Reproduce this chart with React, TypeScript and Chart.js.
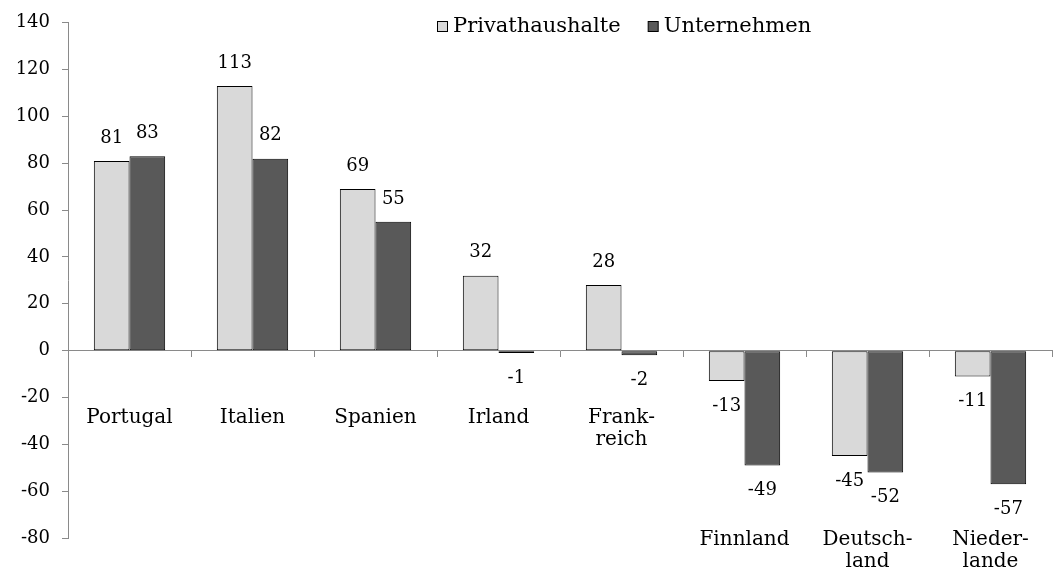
import React, { useEffect, useRef } from 'react';
import { Chart, registerables } from 'chart.js';

Chart.register(...registerables);

// ---- data ----
const categories: string[][] = [
  ['Portugal'],
  ['Italien'],
  ['Spanien'],
  ['Irland'],
  ['Frank-', 'reich'],
  ['Finnland'],
  ['Deutsch-', 'land'],
  ['Nieder-', 'lande'],
];
const seriesNames = ['Privathaushalte', 'Unternehmen'];
const privathaushalte = [81, 113, 69, 32, 28, -13, -45, -11];
const unternehmen = [83, 82, 55, -1, -2, -49, -52, -57];
const yMin = -80;
const yMax = 140;
const yStep = 20;

const FONT_FAMILY = '"DejaVu Serif", serif';
const NUM_SIZE = 18;
const TEXT_SIZE = 20;
const LEGEND_SIZE = 21;
const NUM_FONT = `${NUM_SIZE}px ${FONT_FAMILY}`;
const TEXT_FONT = `${TEXT_SIZE}px ${FONT_FAMILY}`;
const LEGEND_FONT = `${LEGEND_SIZE}px ${FONT_FAMILY}`;
const AXIS_COLOR = '#8a8a8a';
const LIGHT = '#d9d9d9';
const DARK = '#595959';

const overlayPlugin = {
  id: 'overlay',
  afterDatasetsDraw(chart: any) {
    const ctx: CanvasRenderingContext2D = chart.ctx;
    ctx.save();
    ctx.font = NUM_FONT;
    ctx.fillStyle = '#000';
    ctx.textAlign = 'center';
    ctx.textBaseline = 'middle';

    // value labels
    chart.data.datasets.forEach((ds: any, i: number) => {
      const meta = chart.getDatasetMeta(i);
      meta.data.forEach((bar: any, j: number) => {
        const v = ds.data[j];
        const y = v >= 0 ? bar.y - 23 : bar.y + 25;
        ctx.fillText(String(v), bar.x, y);
      });
    });

    // category labels
    ctx.font = TEXT_FONT;
    const xs = chart.scales.x;
    const ys = chart.scales.y;
    const zero = ys.getPixelForValue(0);
    categories.forEach((lines, j) => {
      const min = Math.min(privathaushalte[j], unternehmen[j]);
      const top = min < -10 ? ys.bottom + 2 : zero + 67;
      lines.forEach((l, k) => ctx.fillText(l, xs.getPixelForValue(j), top + k * 22));
    });

    // legend
    ctx.font = LEGEND_FONT;
    ctx.textAlign = 'left';
    let x = 437;
    const ly = 27;
    chart.data.datasets.forEach((ds: any) => {
      ctx.fillStyle = ds.backgroundColor;
      ctx.fillRect(x + 0.5, ly - 5.5, 10, 10);
      ctx.strokeStyle = '#000';
      ctx.lineWidth = 1;
      ctx.strokeRect(x + 0.5, ly - 5.5, 10, 10);
      ctx.fillStyle = '#000';
      ctx.fillText(ds.label, x + 16, ly);
      x += 16 + ctx.measureText(ds.label).width + 27;
    });
    ctx.restore();
  },
};

export default function App() {
  const canvasRef = useRef<HTMLCanvasElement | null>(null);

  useEffect(() => {
    document.body.style.margin = '0';
    const canvas = canvasRef.current;
    if (!canvas) return;
    const chart = new Chart(canvas, {
      type: 'bar',
      data: {
        labels: categories.map((c) => c.join('')),
        datasets: [
          {
            label: seriesNames[0],
            data: privathaushalte,
            backgroundColor: LIGHT,
            borderColor: '#000',
            borderWidth: 1,
            borderSkipped: false,
            categoryPercentage: 0.58,
            barPercentage: 1,
          },
          {
            label: seriesNames[1],
            data: unternehmen,
            backgroundColor: DARK,
            borderColor: '#000',
            borderWidth: 1,
            borderSkipped: false,
            categoryPercentage: 0.58,
            barPercentage: 1,
          },
        ],
      },
      options: {
        responsive: false,
        animation: false,
        layout: { padding: { top: 19, bottom: 34, right: 9, left: 0 } },
        plugins: {
          legend: { display: false },
          tooltip: { enabled: false },
        },
        scales: {
          x: {
            position: { y: 0 } as any,
            grid: {
              display: true,
              drawOnChartArea: false,
              drawTicks: true,
              tickLength: 6,
              color: AXIS_COLOR,
              offset: true,
            },
            border: { display: true, color: AXIS_COLOR, width: 1 },
            ticks: { display: false },
            afterFit: (s: any) => {
              s.height = 0;
            },
          },
          y: {
            min: yMin,
            max: yMax,
            grid: {
              display: true,
              drawOnChartArea: false,
              drawTicks: true,
              tickLength: 6,
              color: AXIS_COLOR,
            },
            border: { display: true, color: AXIS_COLOR, width: 1 },
            ticks: {
              stepSize: yStep,
              padding: 12,
              color: '#000',
              font: { family: FONT_FAMILY, size: NUM_SIZE },
            },
            afterFit: (s: any) => {
              s.width = 68;
            },
          },
        },
      },
      plugins: [overlayPlugin],
    });
    return () => chart.destroy();
  }, []);

  return (
    <div style={{ width: 1061, height: 572 }}>
      <canvas ref={canvasRef} width={1061} height={572} style={{ display: 'block' }} />
    </div>
  );
}
